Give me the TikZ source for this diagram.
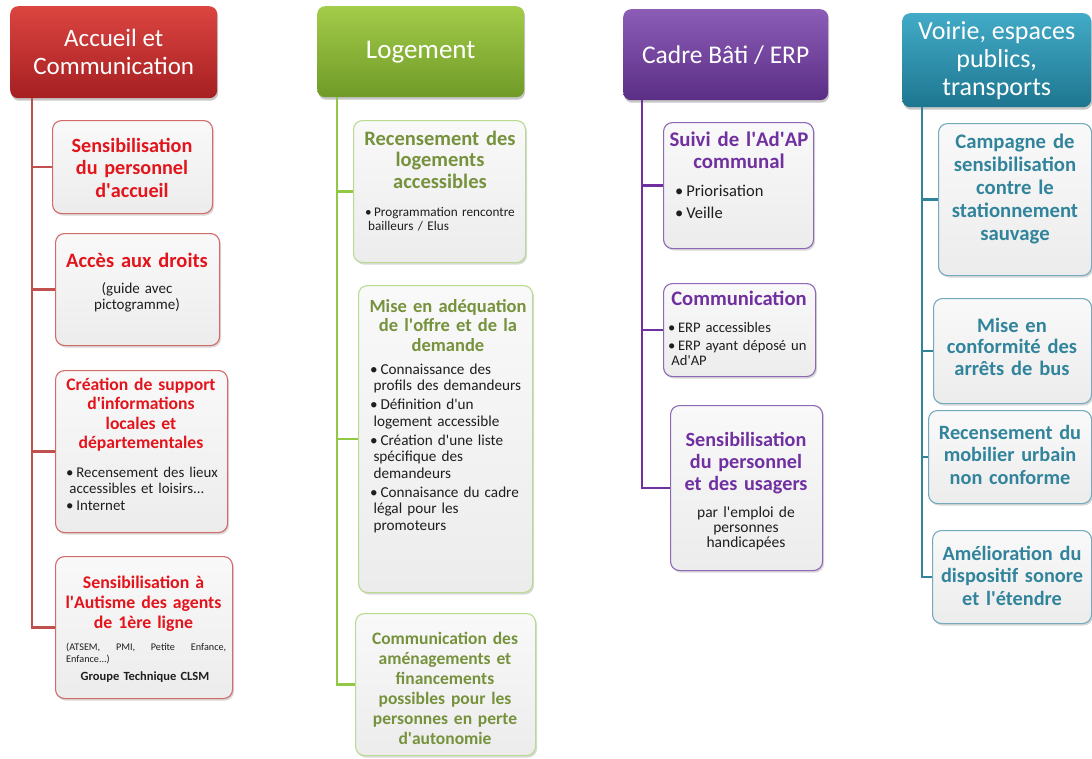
\documentclass[tikz,border=0pt]{standalone}
\usepackage{fontspec}
\setmainfont{Carlito}
\usetikzlibrary{shadows}
\definecolor{redT}{HTML}{E3141C}
\definecolor{greenT}{HTML}{76923C}
\definecolor{purT}{HTML}{7030A0}
\definecolor{tealT}{HTML}{31849B}
\definecolor{txt}{HTML}{1E1E1E}
\definecolor{redA}{HTML}{DB4540}\definecolor{redB}{HTML}{A61F22}
\definecolor{grnA}{HTML}{A3CC4A}\definecolor{grnB}{HTML}{6F9A26}
\definecolor{purA}{HTML}{8C5DB6}\definecolor{purB}{HTML}{5B2E86}
\definecolor{tlA}{HTML}{42ABC7}\definecolor{tlB}{HTML}{1E7690}
\definecolor{redL}{HTML}{C0504D}
\definecolor{grnL}{HTML}{92C846}
\definecolor{purL}{HTML}{7030A0}
\definecolor{tlL}{HTML}{31849B}
\definecolor{redD}{HTML}{D46A6A}
\definecolor{grnD}{HTML}{B9DA8F}
\definecolor{purD}{HTML}{8D68B4}
\definecolor{tlD}{HTML}{74AABC}
\definecolor{boxA}{HTML}{F9F9F9}\definecolor{boxB}{HTML}{ECECEC}
\newcommand{\fs}[2]{\fontsize{#1}{#2}\selectfont}
\newcommand{\ap}{\textquotesingle}
\newcommand{\bi}[1]{\noindent\hangindent=0.22em\hangafter=1\makebox[0.68em][l]{\textbullet}#1\par}
\begin{document}
\begin{tikzpicture}[x=1pt,y=-1pt,
  hdr/.style={rounded corners=8pt, anchor=north west, inner sep=0pt, text=white, align=center,
    drop shadow={shadow xshift=1pt, shadow yshift=-2.5pt, opacity=0.45}},
  box/.style={rounded corners=9pt, anchor=north west, inner sep=0pt, line width=1.1pt,
    top color=boxA, bottom color=boxB, drop shadow={shadow xshift=1.5pt, shadow yshift=-2pt, opacity=0.3}},
  ttl/.style={anchor=base, align=center, inner sep=0pt, text width=220pt},
  bdy/.style={anchor=base west, align=left, text=txt, inner sep=0pt},
  sub/.style={anchor=base, align=center, text=txt, inner sep=0pt, text width=200pt},
  ln/.style={line width=2.6pt}]
\useasboundingbox (0,0) rectangle (1092,758);

% ---------------- Column 1 : Accueil et Communication
\node[hdr, top color=redA, bottom color=redB, minimum width=207pt, minimum height=92pt, font=\fs{25}{28}] (h1) at (10,6) {Accueil et\\Communication};
\node[box, draw=redD, minimum width=160pt, minimum height=93pt] (b11) at (52,120) {};
\node[box, draw=redD, minimum width=164pt, minimum height=112pt] (b12) at (55,233) {};
\node[box, draw=redD, minimum width=172pt, minimum height=162pt] (b13) at (55,370) {};
\node[box, draw=redD, minimum width=177pt, minimum height=142pt] (b14) at (55,556) {};

\node[ttl, text=redT, font=\bfseries\fs{20.2}{22.5}] (b11t) at (132,152) {Sensibilisation\\du personnel\\d\ap accueil};
\node[ttl, text=redT, font=\bfseries\fs{20.5}{23}] (b12t) at (137,267) {Accès aux droits};
\node[sub, font=\fs{15}{16}] (b12s) at (137,293) {(guide avec\\pictogramme)};
\node[ttl, text=redT, font=\bfseries\fs{17.6}{19.5}] (b13t) at (141,390) {Création de support\\d\ap informations\\locales et\\départementales};
\node[bdy, text width=164pt, font=\fs{14.9}{16.5}] (b13b) at (66,477) {\bi{Recensement des lieux\newline accessibles et loisirs...}\bi{Internet}};
\node[ttl, text=redT, font=\bfseries\fs{17.8}{20}] (b14t) at (143.5,588) {Sensibilisation à\\l\ap Autisme des agents\\de 1ère ligne};
\node[bdy, text width=160pt, align=justify, font=\fs{10.2}{12}] (b14b) at (66,650) {(ATSEM, PMI, Petite Enfance,\linebreak Enfance...)\par};
\node[sub, font=\bfseries\fs{12.5}{15}] (b14c) at (145,680) {Groupe Technique CLSM};

\coordinate (t1) at (32,98);
\draw[ln, redL] (h1.south -| t1) |- (b14.west);
\foreach \b in {b11,b12,b13} \draw[ln, redL] (\b.west -| t1) -- (\b.west);

% ---------------- Column 2 : Logement
\node[hdr, top color=grnA, bottom color=grnB, minimum width=207pt, minimum height=91pt, font=\fs{27}{30}] (h2) at (317,6) {Logement};
\node[box, draw=grnD, minimum width=172pt, minimum height=142pt] (b21) at (353,120) {};
\node[box, draw=grnD, minimum width=174pt, minimum height=307pt] (b22) at (358,285) {};
\node[box, draw=grnD, minimum width=180pt, minimum height=142pt] (b23) at (355,613) {};

\node[ttl, text=greenT, font=\bfseries\fs{20.5}{21.5}] (b21t) at (440,145) {Recensement des\\logements\\accessibles};
\node[bdy, text width=160pt, font=\fs{13.2}{14}] (b21b) at (365,216) {\bi{Programmation rencontre\newline bailleurs / Elus}};
\node[ttl, text=greenT, font=\bfseries\fs{18.5}{19.5}] (b22t) at (448,312) {Mise en adéquation\\de l\ap offre et de la\\demande};
\node[bdy, text width=164pt, font=\fs{15.2}{16.5}] (b22b) at (370,374) {\setlength{\parskip}{2.5pt}%
\bi{Connaissance des\newline profils des demandeurs}%
\bi{Définition d\ap un\newline logement accessible}%
\bi{Création d\ap une liste\newline spécifique des\newline demandeurs}%
\bi{Connaisance du cadre\newline légal pour les\newline promoteurs}};
\node[ttl, text=greenT, font=\bfseries\fs{17.5}{20}] (b23t) at (445,644) {Communication des\\aménagements et\\financements\\possibles pour les\\personnes en perte\\d\ap autonomie};

\coordinate (t2) at (337,97);
\draw[ln, grnL] (h2.south -| t2) |- (b23.west);
\foreach \b in {b21,b22} \draw[ln, grnL] (\b.west -| t2) -- (\b.west);

% ---------------- Column 3 : Cadre Bati / ERP
\node[hdr, top color=purA, bottom color=purB, minimum width=205pt, minimum height=91pt, font=\fs{25.5}{28}] (h3) at (623,9) {Cadre Bâti / ERP};
\node[box, draw=purD, minimum width=150pt, minimum height=126pt] (b31) at (663,122) {};
\node[box, draw=purD, minimum width=152pt, minimum height=93pt] (b32) at (663,283) {};
\node[box, draw=purD, minimum width=152pt, minimum height=165pt] (b33) at (670,405) {};

\node[ttl, text=purT, font=\bfseries\fs{20.8}{22}] (b31t) at (739,146) {Suivi de l\ap Ad\ap AP\\communal};
\node[bdy, text width=140pt, font=\fs{16.5}{17}] (b31b) at (675,196) {\setlength{\parskip}{5pt}\bi{Priorisation}\bi{Veille}};
\node[ttl, text=purT, font=\bfseries\fs{20.6}{22}] (b32t) at (739,305) {Communication};
\node[bdy, text width=146pt, font=\fs{14.6}{15.5}] (b32b) at (668,332) {\setlength{\parskip}{2.5pt}\bi{ERP accessibles}\bi{ERP ayant déposé un\newline Ad\ap AP}};
\node[ttl, text=purT, font=\bfseries\fs{20.2}{22}] (b33t) at (746,446) {Sensibilisation\\du personnel\\et des usagers};
\node[sub, font=\fs{15.5}{15}] (b33s) at (746,517) {par l\ap emploi de\\personnes\\handicapées};

\coordinate (t3) at (642,100);
\draw[ln, purL] (h3.south -| t3) |- (b33.west);
\foreach \b in {b31,b32} \draw[ln, purL] (\b.west -| t3) -- (\b.west);

% ---------------- Column 4 : Voirie, espaces publics, transports
\node[hdr, top color=tlA, bottom color=tlB, minimum width=189pt, minimum height=94pt, font=\fs{26}{28}] (h4) at (902,13) {Voirie, espaces\\publics,\\transports};
\node[box, draw=tlD, minimum width=153pt, minimum height=152pt] (b41) at (938,123) {};
\node[box, draw=tlD, minimum width=158pt, minimum height=105pt] (b42) at (933,298) {};
\node[box, draw=tlD, minimum width=163pt, minimum height=93pt] (b43) at (928,410) {};
\node[box, draw=tlD, minimum width=159pt, minimum height=93pt] (b44) at (932,530) {};

\node[ttl, text=tealT, font=\bfseries\fs{20.7}{23}] (b41t) at (1015,148) {Campagne de\\sensibilisation\\contre le\\stationnement\\sauvage};
\node[ttl, text=tealT, font=\bfseries\fs{20.5}{21.5}] (b42t) at (1012,332) {Mise en\\conformité des\\arrêts de bus};
\node[ttl, text=tealT, font=\bfseries\fs{20.3}{22.5}] (b43t) at (1010,439) {Recensement du\\mobilier urbain\\non conforme};
\node[ttl, text=tealT, font=\bfseries\fs{20.3}{22.5}] (b44t) at (1012,560) {Amélioration du\\dispositif sonore\\et l\ap étendre};

\coordinate (t4) at (922,107);
\draw[ln, tlL] (h4.south -| t4) |- (b44.west);
\foreach \b in {b41,b42,b43} \draw[ln, tlL] (\b.west -| t4) -- (\b.west);
\end{tikzpicture}
\end{document}
